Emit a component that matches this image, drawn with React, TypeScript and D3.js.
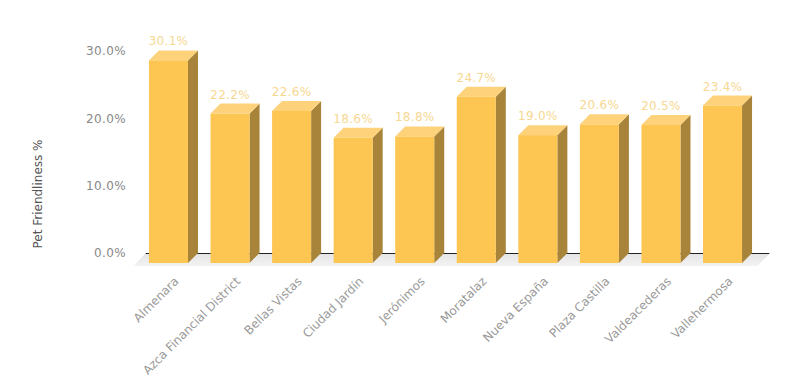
import React from "react";
import * as d3 from "d3";

const categories = ["Almenara", "Azca Financial District", "Bellas Vistas", "Ciudad Jardín", "Jerónimos", "Moratalaz", "Nueva España", "Plaza Castilla", "Valdeacederas", "Vallehermosa"];
const values = [30.1, 22.2, 22.6, 18.6, 18.8, 24.7, 19.0, 20.6, 20.5, 23.4];
const yTicks = [0, 10, 20, 30];
const yTitle = "Pet Friendliness %";

const W = 800, H = 380;
const DX = 10, DY = 10;
const FONT = "'DejaVu Sans', Verdana, sans-serif";

export default function App() {
  const x = d3.scaleBand<string>().domain(categories).range([137.7, 753.3]).paddingInner(0.366).paddingOuter(0.183);
  const y = d3.scaleLinear().domain([0, 30]).range([263, 61.1]);
  const bw = x.bandwidth();
  const y0 = y(0);
  const xL = 137.7, xR = 753.3;
  return (
    <svg width={W} height={H} style={{ position: "absolute", left: 0, top: 0, background: "#fff" }} fontFamily={FONT}>
      <defs>
        <linearGradient id="floor" x1="0" y1="0" x2="0" y2="1">
          <stop offset="0" stopColor="#e4e4e4" />
          <stop offset="1" stopColor="#f3f3f3" />
        </linearGradient>
      </defs>
      {/* floor */}
      <polygon points={`${xL + DX - 2},${y0 - DY} ${xR + DX + 7},${y0 - DY} ${xR + 4},${y0 + 3} ${xL - 4},${y0 + 3}`} fill="url(#floor)" />
      {/* axis line on back plane */}
      <line x1={xL + DX - 2} x2={xR + DX + 6} y1={y0 - DY + 0.5} y2={y0 - DY + 0.5} stroke="#222" strokeWidth={1} />
      {/* y ticks */}
      {yTicks.map((t) => (
        <text key={t} x={126} y={y(t) - DY} dy="0.35em" textAnchor="end" fontSize={12} fill="#888" letterSpacing={0.4}>
          {d3.format(".1f")(t) + "%"}
        </text>
      ))}
      <text transform={`translate(42,194) rotate(-90)`} textAnchor="middle" fontSize={12} fill="#555">{yTitle}</text>
      {/* bars */}
      {categories.map((c, i) => {
        const x0 = x(c)!;
        const yt = y(values[i]);
        return (
          <g key={c}>
            <polygon points={`${x0 + bw},${yt} ${x0 + bw + DX},${yt - DY} ${x0 + bw + DX},${y0 - DY} ${x0 + bw},${y0}`} fill="#a8843b" />
            <polygon points={`${x0},${yt} ${x0 + DX},${yt - DY} ${x0 + bw + DX},${yt - DY} ${x0 + bw},${yt}`} fill="#fdd27a" />
            <rect x={x0} y={yt} width={bw} height={y0 - yt} fill="#fdc552" />
            <text x={x0 + bw / 2} y={yt - DY - 5} textAnchor="middle" fontSize={12} fill="#f7d892" letterSpacing={0.3}>
              {d3.format(".1f")(values[i]) + "%"}
            </text>
          </g>
        );
      })}
      {/* x labels */}
      {categories.map((c) => {
        const cx = x(c)! + bw / 2;
        return (
          <text key={c} transform={`translate(${cx + 11},${282}) rotate(-45)`} textAnchor="end" fontSize={12} fill="#999">
            {c}
          </text>
        );
      })}
    </svg>
  );
}
